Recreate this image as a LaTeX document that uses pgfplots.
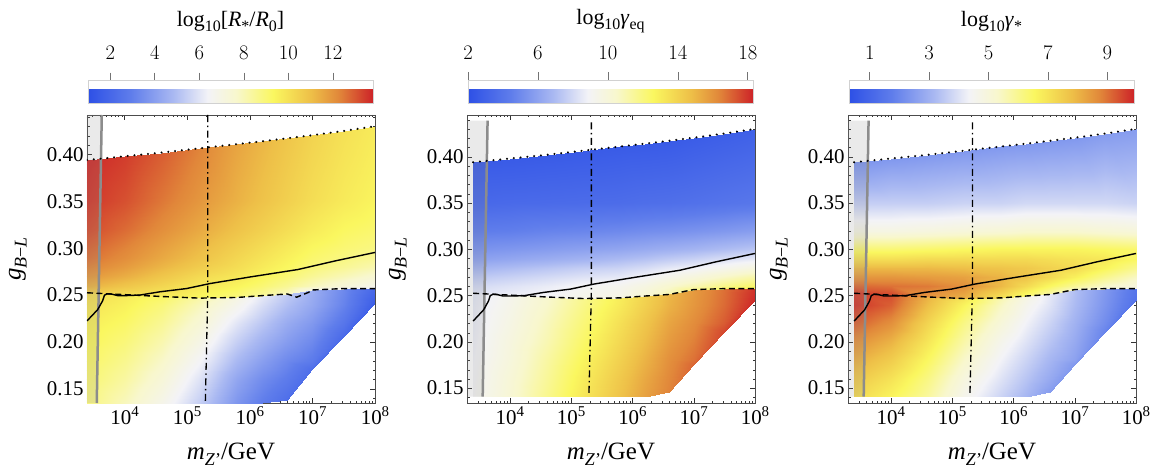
\documentclass[border=0pt]{standalone}
\usepackage{fontspec}
\setmainfont{Liberation Serif}
\usepackage{pgfplots}
\usepackage{pgfplotstable}
\pgfplotsset{compat=1.18}

\newcommand{\fs}{\fontsize{21}{24}\selectfont}
\newcommand{\supt}[1]{\raisebox{8bp}{\fontsize{15}{15}\selectfont #1}}
\newcommand{\subt}[1]{\raisebox{-5bp}{\fontsize{16}{16}\selectfont #1}}
\newcommand{\subl}[1]{\raisebox{-6bp}{\fontsize{18}{18}\selectfont #1}}

% x is log10 of m_Z'/GeV throughout
\pgfplotsset{
  colormap={heat}{rgb255(0cm)=(45,80,230) rgb255(15cm)=(95,125,235) rgb255(30cm)=(170,185,242) rgb255(42cm)=(243,243,247) rgb255(52cm)=(248,247,205) rgb255(65cm)=(250,247,95) rgb255(78cm)=(238,192,72) rgb255(88cm)=(225,135,58) rgb255(100cm)=(205,35,40)},
  mypanel/.style={
    width=288bp, height=288bp, scale only axis,
    xmax=8,
    xtick={4,5,6,7,8},
    xticklabels={10\supt{4},10\supt{5},10\supt{6},10\supt{7},10\supt{8}},
    minor xtick={3.30103,3.47712,3.60206,3.69897,3.77815,3.84510,3.90309,3.95424,
      4.30103,4.47712,4.60206,4.69897,4.77815,4.84510,4.90309,4.95424,
      5.30103,5.47712,5.60206,5.69897,5.77815,5.84510,5.90309,5.95424,
      6.30103,6.47712,6.60206,6.69897,6.77815,6.84510,6.90309,6.95424,
      7.30103,7.47712,7.60206,7.69897,7.77815,7.84510,7.90309,7.95424},
    ytick={0.15,0.2,0.25,0.3,0.35,0.4},
    yticklabels={0.15,0.20,0.25,0.30,0.35,0.40},
    minor ytick={0.14,0.16,0.17,0.18,0.19,0.21,0.22,0.23,0.24,0.26,0.27,0.28,0.29,0.31,0.32,0.33,0.34,0.36,0.37,0.38,0.39,0.41,0.42,0.43,0.44},
    tick align=inside, major tick length=5bp, minor tick length=2.5bp,
    axis line style={black!70}, tick style={black!80},
    ticklabel style={font=\fs},
    xlabel={\textit{m}\subl{\textit{Z}'}/GeV},
    ylabel={\textit{g}\subl{\textit{B}−\textit{L}}},
    label style={font=\fontsize{25}{27}\selectfont},
    xlabel style={at={(axis description cs:0.5,-0.178)}, anchor=center},
    ylabel style={at={(axis description cs:-0.24,0.5)}, anchor=center},
    colormap name=heat, colorbar horizontal,
    colorbar style={
      at={(parent axis.north west)}, anchor=south west, xshift=1bp, yshift=20bp,
      width=285bp, height=23bp, scale only axis,
      xtick pos=right, xticklabel pos=right,
      tick align=outside, major tick length=8bp,
      tick style={black!55, line width=0.6bp},
      axis line style={black!18},
      xticklabel style={font=\fs, yshift=9bp},
      title style={at={(0.5,1)}, anchor=center, yshift=53bp, font=\fontsize{22}{24}\selectfont, inner sep=0pt},
    },
  },
  surfu/.style={surf, shader=interp, mesh/rows=10, mesh/cols=9},
  surfl/.style={surf, shader=interp, mesh/rows=10, mesh/cols=7},
  topline/.style={black, line width=2.3bp, line cap=round, dash pattern=on 0.01bp off 6.8bp},
  solidline/.style={black, line width=1.4bp},
  dashline/.style={black, line width=1.4bp, dash pattern=on 6bp off 3.5bp},
  dotdash/.style={black, line width=1.3bp, dash pattern=on 7bp off 3.5bp on 1.5bp off 3.5bp},
  band/.style={draw=none, fill=black!45, fill opacity=0.18},
  greyline/.style={draw={rgb,255:red,140;green,140;blue,140}, line width=2.5bp},
}

% upper region: from the dashed line up to the dotted edge
\pgfplotstableread{
x y c1 c2 c3
3.4 0.2525 10.5 8.4 9.6
3.4 0.26 11.3 8.0 9.1
3.4 0.27 11.9 7.4 8.5
3.4 0.28 12.3 6.7 7.9
3.4 0.29 12.6 5.9 7.1
3.4 0.30 12.8 5.3 6.3
3.4 0.32 13.2 4.4 4.8
3.4 0.35 13.5 3.3 3.6
3.4 0.394 13.7 2.6 2.3
4.0 0.2505 10.0 8.7 9.5
4.0 0.26 10.8 8.3 9.0
4.0 0.27 11.4 7.7 8.5
4.0 0.28 11.8 7.0 7.9
4.0 0.29 12.1 6.15 7.1
4.0 0.30 12.3 5.5 6.3
4.0 0.32 12.7 4.5 4.8
4.0 0.35 13.1 3.4 3.6
4.0 0.398 13.4 2.6 2.4
4.6 0.2485 9.6 9.0 8.5
4.6 0.26 10.3 8.6 8.9
4.6 0.27 10.8 8.0 8.4
4.6 0.28 11.2 7.3 7.9
4.6 0.29 11.5 6.4 7.2
4.6 0.30 11.7 5.7 6.4
4.6 0.32 12.1 4.7 4.9
4.6 0.35 12.5 3.45 3.6
4.6 0.402 12.9 2.6 2.4
5.2 0.2468 9.3 9.4 8.0
5.2 0.26 9.8 9.0 8.6
5.2 0.27 10.2 8.3 8.3
5.2 0.28 10.6 7.6 7.8
5.2 0.29 10.9 6.65 7.2
5.2 0.30 11.1 5.9 6.5
5.2 0.32 11.5 4.8 5.0
5.2 0.35 11.9 3.5 3.7
5.2 0.4065 12.3 2.6 2.4
5.8 0.2475 8.9 9.6 7.0
5.8 0.26 9.4 9.2 7.9
5.8 0.27 9.8 8.5 8.0
5.8 0.28 10.1 7.8 7.7
5.8 0.29 10.3 6.95 7.2
5.8 0.30 10.5 6.1 6.6
5.8 0.32 10.9 4.95 5.1
5.8 0.35 11.3 3.55 3.7
5.8 0.411 11.6 2.6 2.4
6.2 0.2495 8.4 10.2 6.3
6.2 0.26 9.0 9.7 7.2
6.2 0.27 9.4 8.9 7.7
6.2 0.28 9.7 8.1 7.6
6.2 0.29 9.9 7.2 7.2
6.2 0.30 10.1 6.3 6.6
6.2 0.32 10.5 5.1 5.2
6.2 0.35 10.9 3.65 3.8
6.2 0.414 11.2 2.6 2.4
6.6 0.2512 7.8 11.0 5.7
6.6 0.26 8.5 10.4 6.5
6.6 0.27 9.0 9.4 7.2
6.6 0.28 9.3 8.5 7.4
6.6 0.29 9.5 7.5 7.1
6.6 0.30 9.7 6.5 6.6
6.6 0.32 10.1 5.2 5.2
6.6 0.35 10.5 3.7 3.8
6.6 0.4172 10.8 2.6 2.4
7.0 0.2555 7.0 11.8 5.3
7.0 0.26 7.9 11.0 5.9
7.0 0.27 8.5 9.9 6.7
7.0 0.28 8.9 8.8 7.2
7.0 0.29 9.1 7.75 7.0
7.0 0.30 9.3 6.7 6.6
7.0 0.32 9.7 5.35 5.2
7.0 0.35 10.1 3.8 3.8
7.0 0.4205 10.4 2.7 2.4
7.5 0.257 6.4 12.5 4.9
7.5 0.26 7.3 11.8 5.3
7.5 0.27 8.0 10.6 6.0
7.5 0.28 8.5 9.3 6.6
7.5 0.29 8.8 8.15 6.9
7.5 0.30 9.0 7.0 6.5
7.5 0.32 9.3 5.55 5.1
7.5 0.35 9.7 3.95 3.8
7.5 0.425 10.0 2.8 2.5
8.0 0.257 6.0 13.0 4.7
8.0 0.26 6.8 12.4 4.9
8.0 0.27 7.5 11.2 5.4
8.0 0.28 8.1 9.8 6.0
8.0 0.29 8.5 8.55 6.5
8.0 0.30 8.8 7.3 6.4
8.0 0.32 9.1 5.8 5.0
8.0 0.35 9.4 4.1 3.7
8.0 0.430 9.7 2.9 2.5
}\tabup

% lower region: from the bottom (or the diagonal edge) up to the dashed line
% y is for the middle and right panels, y1 for the left one
\pgfplotstableread{
x y y1 c1 c2 c3
3.4 0.141 0.135 8.8 9.0 7.2
3.4 0.16 0.16 9.0 8.9 7.6
3.4 0.18 0.18 9.2 8.8 8.1
3.4 0.20 0.20 9.4 8.7 8.6
3.4 0.22 0.22 9.6 8.6 9.2
3.4 0.24 0.24 9.9 8.5 9.7
3.4 0.2525 0.2525 10.2 8.4 9.6
4.0 0.141 0.135 7.9 10.2 6.6
4.0 0.16 0.16 8.3 10.1 7.0
4.0 0.18 0.18 8.6 9.9 7.5
4.0 0.20 0.20 8.9 9.8 8.0
4.0 0.22 0.22 9.2 9.6 8.6
4.0 0.24 0.24 9.5 9.4 9.2
4.0 0.2505 0.2505 9.7 9.3 9.4
4.6 0.141 0.135 6.8 11.7 5.8
4.6 0.16 0.16 7.3 11.5 6.1
4.6 0.18 0.18 7.7 11.3 6.5
4.6 0.20 0.20 8.1 11.0 6.9
4.6 0.22 0.22 8.5 10.8 7.3
4.6 0.24 0.24 8.9 10.5 7.8
4.6 0.2485 0.2485 9.2 10.4 8.0
5.2 0.141 0.135 5.4 13.2 4.6
5.2 0.16 0.16 5.9 13.0 4.9
5.2 0.18 0.18 6.4 12.7 5.3
5.2 0.20 0.20 6.9 12.4 5.7
5.2 0.22 0.22 7.4 12.1 6.1
5.2 0.24 0.24 7.9 11.8 6.6
5.2 0.2468 0.2468 8.2 11.7 6.9
5.8 0.141 0.135 3.7 14.6 3.7
5.8 0.16 0.16 4.2 14.4 4.0
5.8 0.18 0.18 4.8 14.1 4.3
5.8 0.20 0.20 5.4 13.8 4.6
5.8 0.22 0.22 6.0 13.5 5.0
5.8 0.24 0.24 6.7 13.1 5.4
5.8 0.2475 0.2475 7.0 13.0 5.6
6.2 0.141 0.135 2.9 15.6 3.1
6.2 0.16 0.16 3.4 15.4 3.4
6.2 0.18 0.18 4.0 15.1 3.7
6.2 0.20 0.20 4.6 14.8 4.0
6.2 0.22 0.22 5.2 14.5 4.3
6.2 0.24 0.24 5.8 14.1 4.6
6.2 0.2495 0.2495 6.1 14.0 4.8
6.6 0.146 0.138 2.3 16.4 2.5
6.6 0.16 0.16 2.8 16.3 2.8
6.6 0.18 0.18 3.3 16.1 3.1
6.6 0.20 0.20 3.9 15.8 3.4
6.6 0.22 0.22 4.4 15.5 3.7
6.6 0.24 0.24 5.0 15.1 4.0
6.6 0.2512 0.2512 5.3 15.0 4.1
7.0 0.1766 0.171 2.3 17.0 2.4
7.0 0.1766 0.171 2.3 17.0 2.4
7.0 0.18 0.18 2.8 16.8 2.6
7.0 0.20 0.20 3.3 16.5 2.8
7.0 0.22 0.22 3.8 16.2 3.0
7.0 0.24 0.24 4.3 15.9 3.2
7.0 0.2555 0.2555 4.5 15.8 3.3
7.5 0.2106 0.206 2.1 17.6 1.9
7.5 0.2106 0.206 2.1 17.6 1.9
7.5 0.2106 0.206 2.1 17.6 1.9
7.5 0.2106 0.206 2.1 17.6 1.9
7.5 0.22 0.22 2.6 17.2 2.1
7.5 0.24 0.24 3.1 16.9 2.3
7.5 0.257 0.257 3.3 16.8 2.4
8.0 0.245 0.242 1.6 18.2 1.4
8.0 0.245 0.242 1.6 18.2 1.4
8.0 0.245 0.242 1.6 18.2 1.4
8.0 0.245 0.242 1.6 18.2 1.4
8.0 0.245 0.242 1.6 18.2 1.4
8.0 0.245 0.242 1.6 18.2 1.4
8.0 0.257 0.257 2.0 18.0 1.5
}\tablow

\begin{document}
\begin{tikzpicture}
\path[use as bounding box] (0,-65bp) rectangle (1151bp,403bp);

% ---------- left: R*/R0 ----------
\begin{axis}[mypanel, at={(87bp,0bp)}, anchor=south west,
  xmin=3.4, ymin=0.135, ymax=0.442,
  point meta min=1, point meta max=13.8,
  colorbar style={xtick={2,4,6,8,10,12},
    title={log\subt{10}[\textit{R}\subt{*}/\textit{R}\subt{0}]}}]
\addplot[surfu, point meta=\thisrow{c1}] table[x=x, y=y] {\tabup};
\addplot[surfl, point meta=\thisrow{c1}] table[x=x, y=y1] {\tablow};
\addplot[band] coordinates {(3.3,0.135) (3.3,0.442) (3.636,0.442) (3.556,0.135)} -- cycle;
\addplot[greyline] coordinates {(3.636,0.442) (3.556,0.135)};
\addplot[topline] coordinates {(3.4,0.394) (4.0,0.398) (4.6,0.402) (5.2,0.4065) (5.8,0.411) (6.2,0.414) (6.6,0.4172) (7.0,0.4205) (7.5,0.425) (8.0,0.430)};
\addplot[solidline] coordinates {(3.4,0.2225) (3.57,0.2345) (3.65,0.2440) (3.68,0.2500) (3.73,0.2515) (3.80,0.2510) (3.89,0.2495) (4.03,0.2495) (4.24,0.2500) (4.56,0.2535) (4.99,0.2570) (5.37,0.2624) (6.02,0.2695) (6.77,0.2773) (7.36,0.2864) (8.0,0.2955)};
\addplot[dashline] coordinates {(3.4,0.2525) (4.0,0.2505) (4.6,0.2485) (5.2,0.2468) (5.8,0.2475) (6.2,0.2495) (6.6,0.2512) (6.75,0.2478) (6.94,0.2530) (7.0,0.2555) (7.5,0.257) (8.0,0.257)};
\addplot[dotdash] coordinates {(5.33,0.442) (5.33,0.255) (5.29,0.135)};
\end{axis}

% ---------- middle: gamma_eq ----------
\begin{axis}[mypanel, at={(467bp,0bp)}, anchor=south west,
  xmin=3.3, ymin=0.134, ymax=0.445,
  point meta min=2, point meta max=18.3,
  colorbar style={xtick={2,6,10,14,18},
    title={log\subt{10}\textit{γ}\subt{eq}}}]
\addplot[surfu, point meta=\thisrow{c2}] table[x=x, y=y] {\tabup};
\addplot[surfl, point meta=\thisrow{c2}] table[x=x, y=y] {\tablow};
\addplot[band] coordinates {(3.3,0.141) (3.3,0.439) (3.636,0.439) (3.556,0.141)} -- cycle;
\addplot[greyline] coordinates {(3.636,0.439) (3.556,0.141)};
\addplot[topline] coordinates {(3.4,0.394) (4.0,0.398) (4.6,0.402) (5.2,0.4065) (5.8,0.411) (6.2,0.414) (6.6,0.4172) (7.0,0.4205) (7.5,0.425) (8.0,0.430)};
\addplot[solidline] coordinates {(3.4,0.2225) (3.57,0.2345) (3.65,0.2440) (3.68,0.2500) (3.73,0.2515) (3.80,0.2510) (3.89,0.2495) (4.03,0.2495) (4.24,0.2500) (4.56,0.2535) (4.99,0.2570) (5.37,0.2624) (6.02,0.2695) (6.77,0.2773) (7.36,0.2864) (8.0,0.2955)};
\addplot[dashline] coordinates {(3.4,0.2525) (4.0,0.2505) (4.6,0.2485) (5.2,0.2468) (5.8,0.2475) (6.2,0.2495) (6.6,0.2512) (7.0,0.2565) (7.5,0.2575) (8.0,0.2575)};
\addplot[dotdash] coordinates {(5.33,0.437) (5.33,0.255) (5.29,0.143)};
\end{axis}

% ---------- right: gamma_* ----------
\begin{axis}[mypanel, at={(848bp,0bp)}, anchor=south west,
  xmin=3.3, ymin=0.134, ymax=0.445,
  point meta min=0.3, point meta max=9.9,
  colorbar style={xtick={1,3,5,7,9},
    title={log\subt{10}\textit{γ}\subt{*}}}]
\addplot[surfu, point meta=\thisrow{c3}] table[x=x, y=y] {\tabup};
\addplot[surfl, point meta=\thisrow{c3}] table[x=x, y=y] {\tablow};
\addplot[band] coordinates {(3.3,0.141) (3.3,0.439) (3.636,0.439) (3.556,0.141)} -- cycle;
\addplot[greyline] coordinates {(3.636,0.439) (3.556,0.141)};
\addplot[topline] coordinates {(3.4,0.394) (4.0,0.398) (4.6,0.402) (5.2,0.4065) (5.8,0.411) (6.2,0.414) (6.6,0.4172) (7.0,0.4205) (7.5,0.425) (8.0,0.430)};
\addplot[solidline] coordinates {(3.4,0.2225) (3.57,0.2345) (3.65,0.2440) (3.68,0.2500) (3.73,0.2515) (3.80,0.2510) (3.89,0.2495) (4.03,0.2495) (4.24,0.2500) (4.56,0.2535) (4.99,0.2570) (5.37,0.2624) (6.02,0.2695) (6.77,0.2773) (7.36,0.2864) (8.0,0.2955)};
\addplot[dashline] coordinates {(3.4,0.2525) (4.0,0.2505) (4.6,0.2485) (5.2,0.2468) (5.8,0.2475) (6.2,0.2495) (6.6,0.2512) (7.0,0.2565) (7.5,0.2575) (8.0,0.2575)};
\addplot[dotdash] coordinates {(5.33,0.437) (5.33,0.255) (5.29,0.143)};
\end{axis}
\end{tikzpicture}
\end{document}
